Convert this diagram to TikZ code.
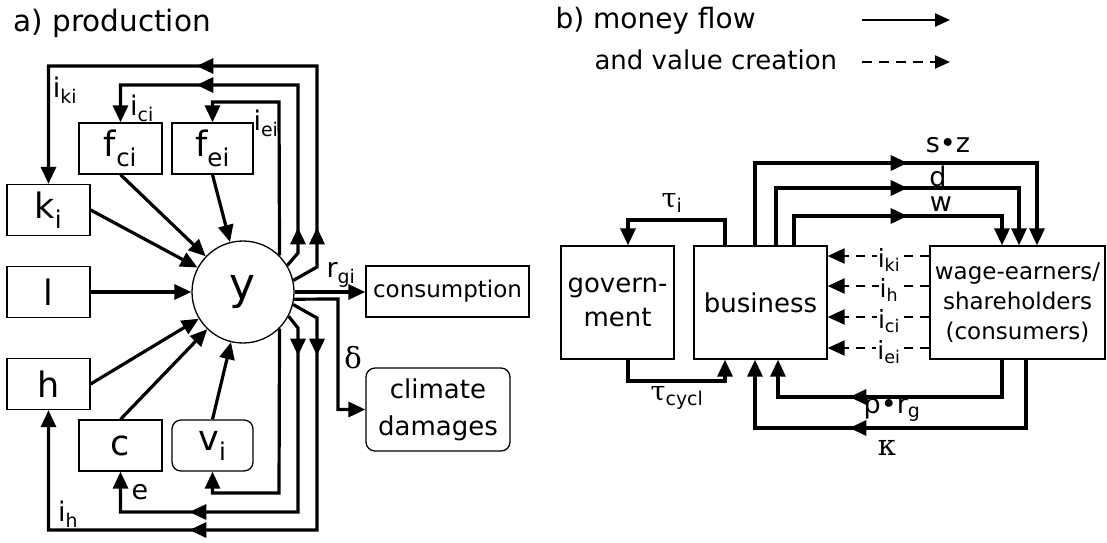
\documentclass[tikz,border=0pt]{standalone}
\usepackage{fontspec}
\setmainfont{DejaVu Sans}
\newfontfamily\grk{DejaVu Serif}
\usetikzlibrary{arrows.meta,decorations.markings}
\tikzset{
  box/.style={draw,line width=1.3pt,inner sep=0pt,align=center},
  lbox/.style={box,minimum width=83pt,minimum height=51pt,font=\fontsize{35}{36}\selectfont},
  rbox/.style={box,rounded corners=9pt},
  flw/.style={line width=3.2pt,-{Triangle[length=17pt,width=15pt]}},
  dflw/.style={line width=2.4pt,dash pattern=on 9pt off 7pt,-{Triangle[length=17pt,width=15pt]}},
  lflw/.style={line width=2.2pt,-{Triangle[length=15pt,width=13pt]}},
  midtip/.style={postaction={decorate,decoration={markings,
      mark=at position #1 with {\arrow{Triangle[length=17pt,width=15pt]}}}}},
  lbl/.style={inner sep=1pt,font=\fontsize{27}{28}\selectfont},
}

\begin{document}
\begin{tikzpicture}[x=1pt,y=-1pt,every node/.style={font=\fontsize{26}{30}\selectfont}]
\useasboundingbox (0,0) rectangle (1107,542);

% a) production
\node[anchor=base west,font=\fontsize{29.5}{32}\selectfont] (ta) at (10,31) {a) production};
\node[lbox] (ki) at (48.5,210) {k\textsubscript{i}};
\node[lbox] (l) at (48.5,292) {l};
\node[lbox] (h) at (48.5,384) {h};
\node[lbox] (fci) at (120.5,148.5) {f\textsubscript{ci}};
\node[lbox,minimum width=81pt] (fei) at (212.5,148.5) {f\textsubscript{ei}};
\node[lbox] (c) at (120.5,445.5) {c};
\node[lbox,rounded corners=9pt,minimum width=81pt] (vi) at (212.5,445.5) {v\textsubscript{i}};
\node[circle,draw,line width=1.3pt,minimum size=102pt,inner sep=0pt,font=\fontsize{44}{44}\selectfont] (y) at (243,292) {y};
\node[box,minimum width=163pt,minimum height=51pt,font=\fontsize{23}{26}\selectfont] (cons) at (447.5,291.5) {consumption};
\node[rbox,minimum width=144pt,minimum height=83pt,font=\fontsize{26}{37}\selectfont] (clim) at (438,409.5) {climate\\damages};

\foreach \s in {ki.east,fci.south,fei.south,l,h.east,c.north,vi.north}
  \draw[flw] (\s) -- (y);

\draw[flw,midtip=66.8pt,midtip=348.8pt] (y.13) -- (317,267) -- (317,66) -| (ki.north);
\draw[flw,midtip=42pt,midtip=286pt] (y.31) -- (298,253) -- (298,85) -| (fci.north);
\draw[flw] (y.45) -- (279,102) -| (fei.north);
\draw[flw] (y.-45) -- (279,493) -| (vi.south);
\draw[flw,midtip=42.7pt,midtip=307.7pt] (y.-28) -- (298,328) -- (298,512) -| (c.south);
\draw[flw,midtip=65.1pt,midtip=367.1pt] (y.-14) -- (317,318) -- (317,530) -| (h.south);
\draw[flw] (y.east) -- (y.east -| cons.west);
\draw[flw] (y.-8) -- (338,299) |- (clim.west);

\node[lbl] (lki) at (65,90) {i\textsubscript{ki}};
\node[lbl] (lci) at (142,108) {i\textsubscript{ci}};
\node[lbl] (lei) at (266,123) {i\textsubscript{ei}};
\node[lbl] (lrg) at (341,275) {r\textsubscript{gi}};
\node[lbl,font=\grk\fontsize{29}{30}\selectfont] (ldel) at (353,358) {δ};
\node[lbl] (le) at (140,492) {e};
\node[lbl] (lh) at (68,514) {i\textsubscript{h}};

% b) money flow and value creation
\node[anchor=base west,font=\fontsize{28}{32}\selectfont] (tb) at (552,28) {b) money flow};
\node[anchor=base west,font=\fontsize{26}{32}\selectfont] (tb2) at (591,69) {and value creation};
\coordinate (m1) at (862,20); \coordinate (m2) at (950,20);
\coordinate (v1) at (862,62); \coordinate (v2) at (950,62);
\draw[lflw] (m1) -- (m2);
\draw[lflw,dash pattern=on 10pt off 7pt] (v1) -- (v2);

\node[box,minimum width=113pt,minimum height=113pt,font=\fontsize{26}{34}\selectfont] (gov) at (617.5,302.5) {govern-\\ment};
\node[box,minimum width=133pt,minimum height=113pt] (bus) at (760.5,302.5) {business};
\node[box,minimum width=175pt,minimum height=113pt,font=\fontsize{23}{30}\selectfont] (hh) at (1017.5,302.5) {wage-earners/\\shareholders\\(consumers)};

\draw[flw] (725,0 |- bus.north) -- (725,220) -| (628,0 |- gov.north);
\draw[flw] (628,0 |- gov.south) -- (628,381) -| (725,0 |- bus.south);

\draw[flw,midtip=235pt] (755,0 |- bus.north) -- (755,163) -| (1037,0 |- hh.north);
\draw[flw,midtip=189pt] (776,0 |- bus.north) -- (776,188) -| (1019,0 |- hh.north);
\draw[flw,midtip=143pt] (794,0 |- bus.north) -- (794,216) -| (1002,0 |- hh.north);

\foreach \yy/\t [count=\n] in {256/ki,286/h,317/ci,348/ei} {
  \draw[dflw] (hh.west |- 0,\yy) -- (bus.east |- 0,\yy);
  \node[lbl,fill=white,font=\fontsize{25}{26}\selectfont] (ld\n) at (889,\yy+4) {i\textsubscript{\t}};
}

\draw[flw,midtip=190pt] (1002,0 |- hh.south) -- (1002,397) -| (778,0 |- bus.south);
\draw[flw,midtip=245pt] (1026,0 |- hh.south) -- (1026,428) -| (755,0 |- bus.south);

\node[lbl] (lsz) at (948,145) {s•z};
\node[lbl] (ld) at (938,176) {d};
\node[lbl] (lw) at (941,204) {w};
\node[lbl] (lti) at (672,203) {{\grk τ}\textsubscript{i}};
\node[lbl] (ltc) at (677,398) {{\grk τ}\textsubscript{cycl}};
\node[lbl] (lpr) at (892,410) {p•r\textsubscript{g}};
\node[lbl,font=\grk\fontsize{29}{30}\selectfont] (lkap) at (887,448) {κ};
\end{tikzpicture}
\end{document}
